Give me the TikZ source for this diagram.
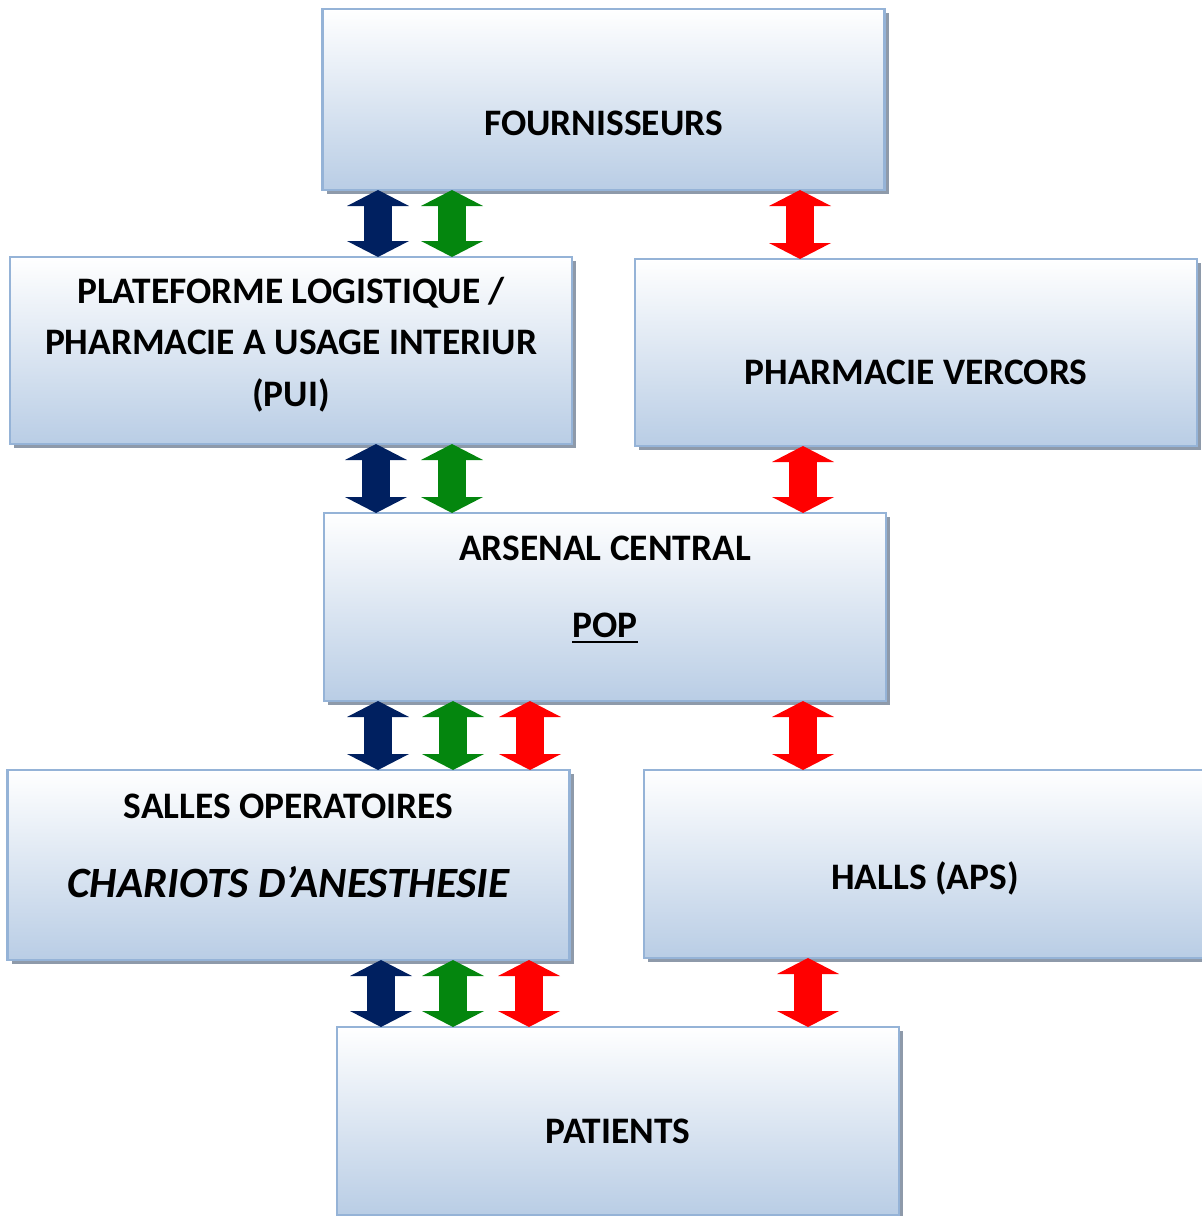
\documentclass[tikz,border=0pt]{standalone}
\usepackage{fontspec}
\setmainfont{Carlito}
\newcommand{\popline}[1]{\setbox0\hbox{#1}\rlap{\rule[-2.6pt]{\wd0}{1.1pt}}\box0}
\usetikzlibrary{arrows.meta,shadows,calc}
\definecolor{boxblue}{RGB}{185,205,229}
\definecolor{boxline}{RGB}{149,179,215}
\definecolor{shadowgrey}{RGB}{142,154,170}
\definecolor{navyarr}{RGB}{0,32,96}
\definecolor{greenarr}{RGB}{4,134,14}
\definecolor{redarr}{RGB}{255,0,0}
\tikzset{
  box/.style={draw=boxline,line width=1.2pt,top color=white,bottom color=boxblue,
    minimum width=281pt,minimum height=94pt,inner sep=0pt,outer sep=0pt,
    drop shadow={shadow xshift=2pt,shadow yshift=-2pt,fill=shadowgrey,opacity=1}},
  boxtext/.style={font=\bfseries\fontsize{18.7}{25.8}\selectfont,align=center,inner sep=0pt},
  flow/.style={line width=14pt,
    {Triangle[length=8pt,width=31pt,line width=0pt]}-{Triangle[length=8pt,width=31pt,line width=0pt]}}
}

\begin{document}
\begin{tikzpicture}[x=0.5pt,y=-0.5pt]
    \useasboundingbox (0,0) rectangle (1201,1216);
    % boxes
    \node (fourn) [box,minimum height=90.5pt] at (603.5,99.5) {};
    \node (plat) [box,minimum height=93.5pt] at (291,350.5) {};
    \node (verc) [box,minimum height=93.5pt] at (916,352.5) {};
    \node (arsenal) [box] at (605,607) {};
    \node (salles) [box,minimum height=95pt] at (288.5,865) {};
    \node (halls) [box] at (925,864) {};
    \node (patients) [box] at (618,1121) {};
    % texts
    \node (fourn-txt) [boxtext] at ($(fourn)+(0,24)$) {FOURNISSEURS};
    \node (plat-txt) [boxtext] at ($(plat)+(0,-6)$)
      {PLATEFORME LOGISTIQUE /\\PHARMACIE A USAGE INTERIUR\\(PUI)};
    \node (verc-txt) [boxtext] at ($(verc)+(0,20)$) {PHARMACIE VERCORS};
    \node (arsenal-txt) [boxtext] at ($(arsenal)+(0,-59)$) {ARSENAL CENTRAL};
    \node (pop-txt) [boxtext] at ($(arsenal)+(0,21)$) {\popline{POP}};
    \node (salles-txt) [boxtext] at ($(salles)+(0,-59)$) {SALLES OPERATOIRES};
    \node (chariots-txt) [boxtext,font=\bfseries\itshape\fontsize{21.6}{26}\selectfont]
      at ($(salles)+(0,17)$) {CHARIOTS D’ANESTHESIE};
    \node (halls-txt) [boxtext] at ($(halls)+(0,14)$) {HALLS (APS)};
    \node (patients-txt) [boxtext] at ($(patients)+(0,10)$) {PATIENTS};
    % flows
    \draw[flow,navyarr] (fourn.south -| 378,0) -- (plat.north -| 378,0);
    \draw[flow,greenarr] (fourn.south -| 452,0) -- (plat.north -| 452,0);
    \draw[flow,redarr] (fourn.south -| 800,0) -- (verc.north -| 800,0);
    \draw[flow,navyarr] (plat.south -| 376,0) -- (arsenal.north -| 376,0);
    \draw[flow,greenarr] (plat.south -| 452,0) -- (arsenal.north -| 452,0);
    \draw[flow,redarr] (verc.south -| 803,0) -- (arsenal.north -| 803,0);
    \draw[flow,navyarr] (arsenal.south -| 378,0) -- (salles.north -| 378,0);
    \draw[flow,greenarr] (arsenal.south -| 453,0) -- (salles.north -| 453,0);
    \draw[flow,redarr] (arsenal.south -| 530,0) -- (salles.north -| 530,0);
    \draw[flow,redarr] (arsenal.south -| 803,0) -- (halls.north -| 803,0);
    \draw[flow,navyarr] (salles.south -| 381,0) -- (patients.north -| 381,0);
    \draw[flow,greenarr] (salles.south -| 453,0) -- (patients.north -| 453,0);
    \draw[flow,redarr] (salles.south -| 529,0) -- (patients.north -| 529,0);
    \draw[flow,redarr] (halls.south -| 808,0) -- (patients.north -| 808,0);
\end{tikzpicture}
\end{document}
